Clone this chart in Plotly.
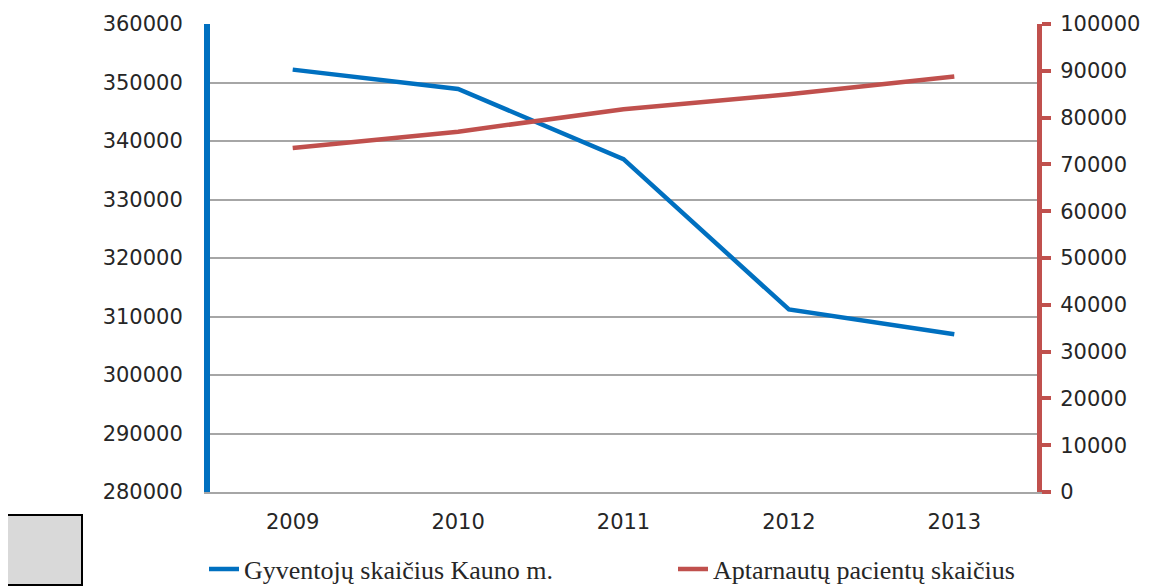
import plotly.graph_objects as go

years = ["2009", "2010", "2011", "2012", "2013"]
gyventojai = [352200, 348900, 336900, 311200, 306950]
pacientai = [73500, 77000, 81800, 85000, 88800]
left_ticks = [280000, 290000, 300000, 310000, 320000, 330000, 340000, 350000, 360000]
right_ticks = [0, 10000, 20000, 30000, 40000, 50000, 60000, 70000, 80000, 90000, 100000]

BLUE = "#0070c0"
RED = "#c0504d"
GRID = "#a6a6a6"
TXT = "#262626"

OFF = 8  # default body margin of the page
W, H = 1149 - OFF, 586 - OFF
L, R, T, B = 202, 112, 16, 94
pw = W - L - R
ph = H - T - B

def px2x(px):
    return (px - OFF - L) / pw

def py2y(py):
    return (H - B - (py - OFF)) / ph

fig = go.Figure()
fig.add_trace(go.Scatter(x=years, y=gyventojai, mode="lines", name="Gyventojų skaičius Kauno m.",
                         line=dict(color=BLUE, width=4.5), yaxis="y"))
fig.add_trace(go.Scatter(x=years, y=pacientai, mode="lines", name="Aptarnautų pacientų skaičius",
                         line=dict(color=RED, width=4.5), yaxis="y2"))

tickfont = dict(family="DejaVu Sans", size=21, color=TXT)

fig.update_layout(
    width=W, height=H,
    margin=dict(l=L, r=R, t=T, b=B, pad=0, autoexpand=False),
    paper_bgcolor="white", plot_bgcolor="white",
    showlegend=True,
    legend=dict(orientation="h", x=px2x(204), xanchor="left", y=py2y(569), yanchor="middle",
                font=dict(family="Liberation Serif", size=26, color=TXT),
                itemwidth=30, entrywidth=424, tracegroupgap=0,
                bgcolor="rgba(0,0,0,0)"),
    xaxis=dict(type="category", range=[-0.5, 4.5], showgrid=False, showline=True, linecolor=GRID,
               linewidth=1.5, ticks="", tickfont=tickfont, ticklabelstandoff=10, zeroline=False),
    yaxis=dict(range=[280000, 360000], tickvals=left_ticks, showgrid=True, gridcolor=GRID, gridwidth=1.5,
               showline=True, linecolor=BLUE, linewidth=6, ticks="", tickfont=tickfont,
               ticklabelstandoff=17, zeroline=False, tickformat="d"),
    yaxis2=dict(range=[0, 100000], tickvals=right_ticks, overlaying="y", side="right", showgrid=False,
                showline=True, linecolor=RED, linewidth=5, ticks="outside", ticklen=9, tickwidth=4,
                tickcolor=RED, tickfont=tickfont, ticklabelstandoff=5, zeroline=False, tickformat="d"),
    shapes=[dict(type="rect", xref="paper", yref="paper", x0=px2x(7), x1=px2x(82), y0=py2y(585), y1=py2y(515),
                 fillcolor="#d9d9d9", line=dict(color="black", width=2), layer="above")],
)

fig.write_html("out.html")
